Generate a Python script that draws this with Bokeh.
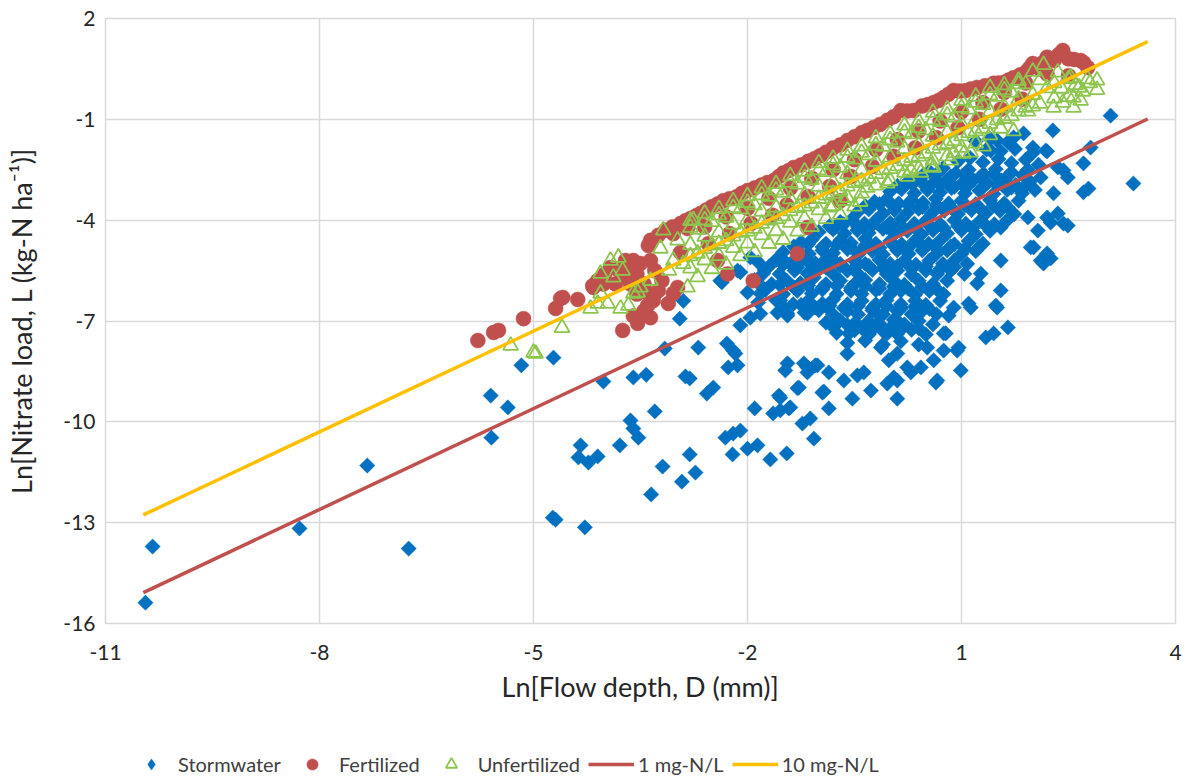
import math
from bokeh.plotting import figure
from bokeh.layouts import column
from bokeh.models import Range1d, FixedTicker, Legend, LegendItem
from bokeh.embed import file_html
from bokeh.resources import INLINE

# ---------------- data ----------------
x_ticks = [-11, -8, -5, -2, 1, 4]
y_ticks = [-16, -13, -10, -7, -4, -1, 2]
series_names = ["Stormwater", "Fertilized", "Unfertilized", "1 mg-N/L", "10 mg-N/L"]

# (Ln D, Ln L) pairs
stormwater = [
    (-10.44, -15.38), (-10.34, -13.71), (-8.28, -13.17), (-7.33, -11.30), (-6.75, -13.77),
    (-5.60, -9.22), (-5.36, -9.57), (-5.59, -10.47), (-5.17, -8.32), (-4.72, -8.09),
    (-4.73, -12.85), (-4.69, -12.91), (-4.28, -13.14), (-4.02, -8.80), (-3.60, -8.68),
    (-3.42, -8.60), (-3.16, -7.82), (-2.95, -6.93), (-2.69, -7.79), (-2.87, -8.65),
    (-2.81, -8.71), (-2.57, -9.16), (-2.48, -8.98), (-3.30, -9.69), (-3.64, -9.96),
    (-3.60, -10.20), (-3.53, -10.47), (-3.79, -10.70), (-4.34, -10.70), (-4.37, -11.06),
    (-4.23, -11.21), (-4.10, -11.03), (-3.19, -11.33), (-2.92, -11.78), (-2.73, -11.51),
    (-2.81, -10.97), (-3.35, -12.16), (-2.31, -10.47), (-2.20, -10.35), (-2.10, -10.26),
    (-2.21, -10.97), (-2.00, -10.80), (-1.86, -10.70), (-1.68, -11.12), (-1.45, -10.94),
    (-1.90, -9.60), (-2.27, -8.38), (-2.14, -8.32), (-2.20, -7.88), (-2.29, -7.67),
    (-2.17, -7.97), (-2.10, -7.13), (-1.96, -6.90), (-1.82, -6.78), (-1.58, -6.75),
    (-1.44, -6.84), (-1.64, -9.75), (-1.54, -9.66), (-1.42, -9.60), (-1.54, -9.28),
    (-1.30, -9.00), (-1.44, -8.26), (-1.47, -8.47), (-1.21, -8.26), (-1.16, -8.53),
    (-1.02, -8.32), (-0.86, -8.53), (-1.28, -8.98), (-1.56, -9.22), (-1.40, -9.57),
    (-1.23, -10.05), (-1.12, -9.90), (-1.07, -10.50), (-0.93, -9.10), (-0.86, -9.60),
    (-2.90, -6.40), (-0.95, -9.13), (-1.16, -8.38), (-1.05, -8.32), (-0.65, -8.77),
    (-0.53, -9.31), (-0.46, -8.62), (-0.37, -8.53), (-0.27, -9.07), (-0.60, -7.97),
    (-0.58, -7.37), (-0.49, -7.05), (-0.30, -7.37), (-0.13, -7.79), (-0.04, -7.37),
    (-0.02, -8.17), (0.10, -7.97), (-0.04, -8.86), (0.10, -8.77), (0.10, -9.31),
    (0.29, -8.53), (0.43, -8.38), (0.52, -7.79), (0.61, -8.17), (0.64, -8.83),
    (0.75, -7.88), (0.94, -7.88), (0.99, -8.47), (0.78, -7.37), (0.82, -6.84),
    (0.89, -6.60), (1.13, -6.60), (1.50, -6.60), (1.34, -7.49), (1.45, -7.37),
    (1.65, -7.19), (-0.18, -6.78), (0.10, -6.99), (0.15, -6.60), (0.66, -8.77),
    (0.24, -8.38), (0.05, -8.68),
    (3.09, -0.89), (3.41, -2.91), (2.81, -1.84), (2.71, -2.31), (2.43, -2.52),
    (2.29, -3.20), (2.71, -3.17), (2.78, -3.06), (2.35, -3.80), (2.43, -4.10),
    (2.20, -3.92), (2.49, -4.16), (2.25, -4.07), (2.11, -5.20), (2.20, -4.99),
    (2.01, -4.81), (2.07, -4.31), (1.93, -3.92), (2.25, -5.14), (2.15, -5.29),
    (1.97, -4.81), (1.55, -5.20), (1.27, -5.59), (1.22, -5.88), (1.55, -6.09),
    (1.48, -6.54), (1.10, -6.48), (0.96, -7.79), (0.75, -7.37),
    (2.00, -1.84), (2.18, -1.93), (1.50, -1.63), (1.73, -1.54), (1.41, -1.93),
    (2.11, -2.73), (2.35, -2.43), (2.49, -2.73), (2.28, -1.33), (1.87, -1.42),
    (1.20, -1.65), (1.40, -1.58), (1.65, -1.68), (1.35, -1.90), (1.55, -1.95),
    (1.75, -1.88), (2.00, -2.00), (2.20, -1.95),
    (0.95, -2.25), (1.12, -2.15), (1.30, -2.28), (1.52, -2.18), (1.70, -2.30), (1.90, -2.20), (2.08, -2.35),
    (0.55, -2.55), (0.74, -2.45), (0.92, -2.60), (1.10, -2.50), (1.31, -2.62), (1.48, -2.48), (1.70, -2.58), (1.93, -2.50),
    (0.25, -2.85), (0.42, -2.78), (0.60, -2.90), (0.80, -2.80), (1.00, -2.92), (1.17, -2.80), (1.36, -2.90),
    (1.56, -2.82), (1.76, -2.95), (1.96, -2.85),
    (0.00, -3.15), (0.16, -3.08), (0.34, -3.20), (0.52, -3.10), (0.70, -3.18), (0.86, -3.05), (1.05, -3.20),
    (1.25, -3.12), (1.45, -3.22), (1.64, -3.10), (1.85, -3.20), (2.03, -3.10),
    (-0.22, -3.45), (-0.05, -3.38), (0.12, -3.50), (0.30, -3.40), (0.46, -3.48), (0.64, -3.36), (0.82, -3.50),
    (1.00, -3.42), (1.20, -3.52), (1.40, -3.40), (1.60, -3.50), (1.80, -3.42),
    (-0.45, -3.75), (-0.30, -3.68), (-0.10, -3.80), (0.06, -3.70), (0.24, -3.78), (0.40, -3.66), (0.58, -3.80),
    (0.76, -3.72), (0.95, -3.82), (1.14, -3.70), (1.34, -3.80), (1.54, -3.72), (1.74, -3.82),
    (-0.70, -4.05), (-0.54, -3.98), (-0.36, -4.10), (-0.20, -4.00), (0.00, -4.08), (0.16, -3.96), (0.34, -4.10),
    (0.50, -4.02), (0.70, -4.12), (0.90, -4.00), (1.06, -4.10), (1.26, -4.02), (1.46, -4.12), (1.64, -4.00),
    (-1.00, -4.35), (-0.80, -4.28), (-0.64, -4.40), (-0.46, -4.30), (-0.30, -4.38), (-0.10, -4.26), (0.06, -4.40),
    (0.24, -4.32), (0.44, -4.42), (0.60, -4.30), (0.80, -4.40), (1.00, -4.30), (1.20, -4.42), (1.40, -4.32),
    (-1.25, -4.65), (-1.10, -4.58), (-0.90, -4.70), (-0.70, -4.60), (-0.55, -4.68), (-0.35, -4.56), (-0.20, -4.70),
    (0.00, -4.62), (0.16, -4.72), (0.35, -4.60), (0.54, -4.70), (0.70, -4.60), (0.90, -4.72), (1.10, -4.62), (1.30, -4.70),
    (-1.50, -4.95), (-1.30, -4.88), (-1.14, -5.00), (-0.95, -4.90), (-0.80, -4.98), (-0.60, -4.86), (-0.44, -5.00),
    (-0.25, -4.92), (-0.10, -5.02), (0.10, -4.90), (0.26, -5.00), (0.45, -4.90), (0.64, -5.02), (0.80, -4.90),
    (1.00, -5.00), (1.20, -4.92),
    (-1.85, -5.25), (-1.60, -5.18), (-1.40, -5.30), (-1.24, -5.20), (-1.05, -5.28), (-0.90, -5.16), (-0.70, -5.30),
    (-0.50, -5.20), (-0.35, -5.30), (-0.15, -5.18), (0.00, -5.30), (0.20, -5.20), (0.36, -5.32), (0.55, -5.20),
    (0.74, -5.30), (0.90, -5.20), (1.08, -5.30),
    (-2.10, -5.55), (-1.76, -5.48), (-1.55, -5.60), (-1.34, -5.50), (-1.16, -5.58), (-1.00, -5.46), (-0.80, -5.60),
    (-0.60, -5.50), (-0.45, -5.60), (-0.25, -5.48), (-0.05, -5.60), (0.10, -5.50), (0.30, -5.62), (0.50, -5.50),
    (0.66, -5.60), (0.85, -5.50), (1.04, -5.60),
    (-2.36, -5.85), (-1.90, -5.78), (-1.66, -5.90), (-1.45, -5.80), (-1.26, -5.88), (-1.10, -5.76), (-0.90, -5.90),
    (-0.70, -5.80), (-0.50, -5.90), (-0.35, -5.78), (-0.15, -5.90), (0.05, -5.80), (0.20, -5.92), (0.40, -5.80),
    (0.60, -5.90), (0.80, -5.80),
    (-2.00, -6.15), (-1.75, -6.08), (-1.50, -6.20), (-1.30, -6.10), (-1.10, -6.18), (-0.95, -6.06), (-0.75, -6.20),
    (-0.55, -6.10), (-0.40, -6.20), (-0.20, -6.08), (0.00, -6.20), (0.15, -6.10), (0.35, -6.22), (0.55, -6.10), (0.75, -6.20),
    (-1.85, -6.45), (-1.60, -6.38), (-1.36, -6.50), (-1.15, -6.40), (-0.95, -6.48), (-0.80, -6.36), (-0.60, -6.50),
    (-0.40, -6.40), (-0.20, -6.50), (-0.05, -6.38), (0.15, -6.50), (0.35, -6.40), (0.50, -6.52), (0.70, -6.40),
    (-1.20, -6.75), (-1.00, -6.68), (-0.80, -6.80), (-0.60, -6.70), (-0.45, -6.80), (-0.25, -6.68), (-0.10, -6.80),
    (0.10, -6.70), (0.30, -6.80), (0.45, -6.70), (0.65, -6.80),
    (-0.90, -7.05), (-0.70, -6.98), (-0.50, -7.10), (-0.30, -7.00), (-0.15, -7.08), (0.05, -6.96), (0.20, -7.10),
    (0.40, -7.00), (0.60, -7.10),
    (-0.75, -7.35), (-0.50, -7.28), (-0.30, -7.40), (-0.10, -7.30), (0.10, -7.38), (0.30, -7.26), (0.50, -7.40),
    (-0.60, -7.65), (-0.35, -7.58), (-0.10, -7.70), (0.15, -7.60), (0.40, -7.70),
    (-2.38, -5.80), (-1.96, -5.11), (-2.14, -5.50), (-1.78, -5.59), (-1.49, -5.20), (-1.82, -6.18),
    (-1.54, -6.39), (-1.30, -6.00), (-1.07, -5.70), (-0.79, -5.20), (-0.88, -6.60), (-1.16, -6.78),
    (-1.44, -6.78), (-1.26, -5.88),
    (0.45, -2.68), (0.66, -2.62), (0.85, -2.70), (1.04, -2.64), (1.26, -2.72), (1.45, -2.63), (1.64, -2.71), (1.86, -2.66),
    (0.10, -2.98), (0.31, -2.93), (0.50, -3.00), (0.70, -2.94), (0.90, -3.01), (1.10, -2.95), (1.30, -3.02),
    (1.50, -2.96), (1.70, -3.03), (1.90, -2.97),
    (-0.35, -3.58), (-0.15, -3.52), (0.05, -3.60), (0.25, -3.54), (0.45, -3.61), (0.65, -3.55), (0.85, -3.62),
    (1.05, -3.56), (1.25, -3.63), (1.45, -3.57), (1.65, -3.62),
    (-0.85, -4.18), (-0.65, -4.12), (-0.45, -4.20), (-0.25, -4.14), (-0.05, -4.21), (0.15, -4.15), (0.35, -4.22),
    (0.55, -4.16), (0.75, -4.23), (0.95, -4.17), (1.15, -4.24), (1.35, -4.18), (1.55, -4.22),
    (-1.35, -4.78), (-1.15, -4.72), (-0.95, -4.80), (-0.75, -4.74), (-0.55, -4.81), (-0.35, -4.75), (-0.15, -4.82),
    (0.05, -4.76), (0.25, -4.83), (0.45, -4.77), (0.65, -4.84), (0.85, -4.78), (1.05, -4.85), (1.25, -4.79),
    (-1.70, -5.38), (-1.50, -5.32), (-1.30, -5.40), (-1.10, -5.34), (-0.90, -5.41), (-0.70, -5.35), (-0.50, -5.42),
    (-0.30, -5.36), (-0.10, -5.43), (0.10, -5.37), (0.30, -5.44), (0.50, -5.38), (0.70, -5.45), (0.90, -5.39),
    (-1.80, -5.98), (-1.55, -5.92), (-1.35, -6.00), (-1.15, -5.94), (-0.95, -6.01), (-0.75, -5.95), (-0.55, -6.02),
    (-0.35, -5.96), (-0.15, -6.03), (0.05, -5.97), (0.25, -6.04), (0.45, -5.98), (0.65, -6.05),
    (-1.50, -6.58), (-1.25, -6.52), (-1.05, -6.60), (-0.85, -6.54), (-0.65, -6.61), (-0.45, -6.55), (-0.25, -6.62),
    (-0.05, -6.56), (0.15, -6.63), (0.35, -6.57), (0.55, -6.64),
    (-0.80, -7.18), (-0.60, -7.12), (-0.40, -7.20), (-0.20, -7.14), (0.00, -7.21), (0.20, -7.15), (0.40, -7.22),
]

fertilized = [
    (-5.78, -7.58), (-5.56, -7.34), (-5.49, -7.28), (-5.14, -6.93), (-4.69, -6.63),
    (-4.62, -6.33), (-4.38, -6.36), (-4.16, -6.00), (-4.10, -5.80), (-3.75, -7.28),
    (-3.54, -7.07), (-3.36, -6.90), (-3.40, -6.54), (-3.32, -6.39), (-3.39, -6.18),
    (-3.11, -6.48), (-3.60, -5.20), (-3.68, -5.41), (-3.50, -5.29), (-3.39, -4.75),
    (-3.04, -4.40), (-2.84, -4.25), (-2.94, -4.96), (-3.92, -5.41), (-4.17, -5.95),
    (-3.80, -5.50), (-3.70, -5.70), (-3.55, -5.60), (-3.45, -5.90), (-3.55, -6.20),
    (-3.25, -6.10), (-3.45, -6.70), (-3.60, -6.85), (-3.30, -5.50), (-3.20, -5.80),
    (-3.71, -5.20), (-4.00, -5.60), (-3.85, -5.90), (-4.59, -6.30), (-3.64, -5.90),
    (-4.02, -5.90), (-2.90, -4.10), (-3.36, -5.20),
    (-1.30, -5.00), (-1.92, -5.80), (-2.28, -5.60), (-2.42, -5.20), (-2.98, -6.00),
    (-3.04, -6.18), (-1.16, -4.22), (-0.70, -3.42),
    (-3.36, -4.60), (-3.15, -4.30), (-2.94, -4.10), (-2.80, -3.95), (-2.66, -3.80),
    (-2.50, -3.60), (-2.34, -3.42), (-2.15, -3.30), (-2.00, -3.12), (-1.80, -2.95),
    (-1.63, -2.82), (-1.50, -2.60), (-1.35, -2.43), (-1.15, -2.25), (-0.98, -2.08),
    (-0.80, -1.85), (-0.60, -1.63), (-0.40, -1.40), (-0.23, -1.24), (-0.04, -1.03),
    (0.15, -0.74), (0.33, -0.74), (0.45, -0.60), (0.61, -0.50), (0.75, -0.35),
    (0.89, -0.14), (1.05, -0.15), (1.22, -0.05), (1.45, 0.07), (1.60, 0.10),
    (1.73, 0.24), (1.90, 0.40), (2.00, 0.66), (2.30, 0.75), (2.42, 1.05),
    (2.50, 0.80), (2.71, 0.69), (2.67, 0.75), (2.77, 0.54), (2.20, 0.85), (2.10, 0.50),
    (-3.25, -4.45), (-3.05, -4.20), (-2.87, -4.02), (-2.72, -3.87), (-2.58, -3.70),
    (-2.42, -3.52), (-2.25, -3.36), (-2.08, -3.20), (-1.90, -3.04), (-1.72, -2.88),
    (-1.56, -2.70), (-1.42, -2.52), (-1.25, -2.36), (-1.06, -2.17), (-0.90, -1.98),
    (-0.70, -1.76), (-0.50, -1.52), (-0.32, -1.33), (-0.14, -1.15), (0.05, -0.92),
    (0.24, -0.75), (0.53, -0.56), (0.68, -0.44), (0.82, -0.25), (0.97, -0.16),
    (1.13, -0.10), (1.33, 0.00), (1.52, 0.08), (1.66, 0.17), (1.82, 0.32),
    (1.95, 0.52), (2.15, 0.70), (2.36, 0.92), (2.58, 0.78),
    (-2.60, -4.20), (-2.55, -4.70), (-2.30, -3.90), (-2.25, -4.40), (-2.00, -3.65),
    (-1.95, -4.10), (-1.70, -3.35), (-1.65, -3.85), (-1.40, -3.05), (-1.45, -3.55),
    (-1.10, -2.75), (-1.15, -3.30), (-0.80, -2.50), (-0.85, -3.00), (-0.50, -2.20),
    (-0.55, -2.70), (-0.20, -1.90), (-0.25, -2.40), (0.10, -1.60), (0.05, -2.10),
    (0.40, -1.35), (0.35, -1.85), (0.70, -1.05), (0.65, -1.55), (1.00, -0.78),
    (0.95, -1.25), (1.30, -0.50), (1.25, -1.00), (1.60, -0.20), (1.55, -0.70),
    (1.90, 0.08), (1.85, -0.40), (2.20, 0.35), (2.50, 0.30),
]

unfertilized = [
    (-5.32, -7.73), (-5.00, -7.94), (-4.97, -7.97), (-4.60, -7.20), (-4.20, -6.63),
    (-4.10, -6.48), (-3.96, -6.48), (-4.06, -5.59), (-3.92, -5.20), (-3.81, -5.11),
    (-3.78, -6.63), (-3.67, -6.54), (-3.54, -6.15), (-3.75, -5.50), (-3.36, -5.80),
    (-3.22, -4.84), (-3.18, -4.30), (-3.04, -5.20), (-2.84, -6.00), (-2.76, -4.00),
    (-3.50, -6.00), (-3.60, -6.18), (-4.06, -6.18), (-3.88, -5.70), (-2.98, -4.60),
    (-3.10, -5.50), (-2.90, -5.30),
    (-2.80, -4.02), (-2.60, -3.80), (-2.40, -3.66), (-2.20, -3.43), (-2.00, -3.28),
    (-1.80, -3.05), (-1.60, -2.92), (-1.40, -2.68), (-1.20, -2.55), (-1.00, -2.30),
    (-0.80, -2.17), (-0.60, -1.93), (-0.40, -1.80), (-0.20, -1.56), (0.00, -1.43),
    (0.20, -1.18), (0.40, -1.06), (0.60, -0.80), (0.80, -0.70), (1.00, -0.44),
    (1.20, -0.32), (1.40, -0.06), (1.60, 0.02), (1.80, 0.15), (2.00, 0.42), (2.15, 0.62),
    (-2.70, -4.28), (-2.50, -4.05), (-2.30, -3.92), (-2.10, -3.67), (-1.90, -3.55),
    (-1.70, -3.30), (-1.50, -3.18), (-1.30, -2.93), (-1.10, -2.80), (-0.90, -2.56),
    (-0.70, -2.43), (-0.50, -2.19), (-0.30, -2.06), (-0.10, -1.81), (0.10, -1.69),
    (0.30, -1.44), (0.50, -1.32), (0.70, -1.07), (0.90, -0.94), (1.10, -0.70),
    (1.30, -0.57), (1.50, -0.32), (1.70, -0.20), (1.90, 0.05), (2.10, 0.17),
    (2.30, 0.08), (2.50, 0.20),
    (-2.80, -4.73), (-2.60, -4.49), (-2.40, -4.36), (-2.20, -4.12), (-2.00, -3.99),
    (-1.80, -3.74), (-1.60, -3.62), (-1.40, -3.37), (-1.20, -3.25), (-1.00, -3.00),
    (-0.80, -2.87), (-0.60, -2.63), (-0.40, -2.50), (-0.20, -2.26), (0.00, -2.13),
    (0.20, -1.88), (0.40, -1.76), (0.60, -1.51), (0.80, -1.39), (1.00, -1.14),
    (1.20, -1.01), (1.40, -0.77), (1.60, -0.64), (1.80, -0.40), (2.00, -0.27),
    (2.20, -0.07), (2.40, -0.08), (2.60, 0.03), (2.80, 0.08),
    (-2.70, -4.99), (-2.50, -4.75), (-2.30, -4.62), (-2.10, -4.37), (-1.90, -4.25),
    (-1.70, -4.00), (-1.50, -3.88), (-1.30, -3.63), (-1.10, -3.50), (-0.90, -3.26),
    (-0.70, -3.13), (-0.50, -2.89), (-0.30, -2.76), (-0.10, -2.51), (0.10, -2.39),
    (0.30, -2.14), (0.50, -2.02), (0.70, -1.77), (0.90, -1.64), (1.10, -1.40),
    (1.30, -1.27), (1.50, -1.02), (1.70, -0.90), (1.90, -0.65), (2.10, -0.53),
    (2.30, -0.37), (2.50, -0.33), (2.70, -0.17), (2.90, -0.12),
    (-2.80, -5.43), (-2.60, -5.19), (-2.40, -5.06), (-2.20, -4.82), (-2.00, -4.69),
    (-1.80, -4.44), (-1.60, -4.32), (-1.40, -4.07), (-1.20, -3.95), (-1.00, -3.70),
    (-0.80, -3.57), (-0.60, -3.33), (-0.40, -3.20), (-0.20, -2.96), (0.00, -2.83),
    (0.20, -2.58), (0.40, -2.46), (0.60, -2.21), (0.80, -2.09), (1.00, -1.84),
    (1.20, -1.71), (1.40, -1.47),
    (-2.70, -5.69), (-2.50, -5.45), (-2.30, -5.32), (-2.10, -5.07), (-1.90, -4.95),
    (-1.70, -4.70), (-1.50, -4.58), (-1.30, -4.33), (-1.10, -4.20), (-0.90, -3.96),
    (-0.70, -3.83), (-0.50, -3.59),
    (-0.42, -3.45), (0.24, -2.70), (0.43, -2.58), (0.57, -2.40), (0.89, -2.00),
    (1.13, -1.98), (1.31, -1.80), (1.73, -1.35), (1.93, -0.76), (2.42, -0.50),
    (2.57, -0.35), (2.67, -0.44), (2.53, 0.24), (2.77, 0.20), (2.90, 0.16),
    (2.57, -0.65), (2.29, -0.65), (1.55, -1.27), (1.03, -2.02), (0.85, -2.22),
    (0.61, -2.43), (0.29, -2.52), (-0.04, -2.90), (-0.32, -3.03), (-0.65, -3.42),
    (-0.84, -3.62), (2.35, 0.40), (2.65, -0.05),
    (-2.80, -4.22), (-2.60, -4.00), (-2.40, -3.85), (-2.20, -3.63), (-2.00, -3.48),
    (-1.80, -3.25), (-1.60, -3.11), (-1.40, -2.88), (-1.20, -2.74), (-1.00, -2.51),
    (-0.80, -2.36), (-0.60, -2.14), (-0.40, -1.99), (-0.20, -1.77), (0.00, -1.62),
    (0.20, -1.39), (0.40, -1.25), (0.60, -1.02), (0.80, -0.88), (1.00, -0.65),
    (1.20, -0.50), (1.40, -0.28), (1.60, -0.13), (1.80, 0.05),
    (-2.80, -5.07), (-2.60, -4.85), (-2.40, -4.70), (-2.20, -4.48), (-2.00, -4.33),
    (-1.80, -4.10), (-1.60, -3.96), (-1.40, -3.73), (-1.20, -3.59), (-1.00, -3.36),
    (-0.80, -3.21), (-0.60, -2.99), (-0.40, -2.84), (-0.20, -2.62), (0.00, -2.47),
    (0.20, -2.24), (0.40, -2.10), (0.60, -1.87), (0.80, -1.73), (1.00, -1.50),
    (1.20, -1.35), (1.40, -1.13), (1.60, -0.98), (1.80, -0.76), (2.00, -0.61),
]

# reference concentration lines: end points (Ln D, Ln L)
line_x = [-10.47, 3.61]
one_mg_y = [-15.08, -0.99]
ten_mg_y = [-12.77, 1.31]

# ---------------- styling ----------------
BLUE = "#0070C0"
RED = "#C0504D"
GREEN = "#8DC64E"
GOLD = "#FFC000"
GRID = "#D9D9D9"
TXT = "#262626"
FONT = "Lato"

W = 1185
p = figure(width=W, height=710,
           x_range=Range1d(-11, 4), y_range=Range1d(-16, 2),
           output_backend="svg", toolbar_location=None,
           min_border_left=105, min_border_right=10,
           min_border_top=18, min_border_bottom=87)

p.outline_line_color = GRID
p.outline_line_width = 1.5
p.background_fill_color = "white"
p.border_fill_color = "white"

p.xaxis.ticker = FixedTicker(ticks=x_ticks)
p.yaxis.ticker = FixedTicker(ticks=y_ticks)
p.xaxis.major_label_overrides = {t: str(t) for t in x_ticks}
p.yaxis.major_label_overrides = {t: str(t) for t in y_ticks}
for ax in (p.xaxis, p.yaxis):
    ax.axis_line_color = None
    ax.major_tick_line_color = None
    ax.minor_tick_line_color = None
    ax.major_tick_out = 0
    ax.major_tick_in = 0
    ax.major_label_text_font = FONT
    ax.major_label_text_font_size = "21px"
    ax.major_label_text_color = TXT
    ax.axis_label_text_font = FONT
    ax.axis_label_text_font_size = "27px"
    ax.axis_label_text_font_style = "normal"
    ax.axis_label_text_color = TXT

p.xaxis.axis_label = "Ln[Flow depth, D (mm)]"
p.yaxis.axis_label = "Ln[Nitrate load, L (kg-N ha\u207b\u00b9)]"
p.xaxis.major_label_standoff = 21
p.xaxis.axis_label_standoff = 7
p.yaxis.major_label_standoff = 10
p.yaxis.axis_label_standoff = 22

p.xgrid.grid_line_color = GRID
p.ygrid.grid_line_color = GRID
p.xgrid.grid_line_width = 1.5
p.ygrid.grid_line_width = 1.5

sw_x = [d[0] for d in stormwater]
sw_y = [d[1] for d in stormwater]
fe_x = [d[0] for d in fertilized]
fe_y = [d[1] for d in fertilized]
un_x = [d[0] for d in unfertilized]
un_y = [d[1] for d in unfertilized]

sw_style = dict(marker="square", angle=math.pi / 4, fill_color=BLUE, line_color=BLUE, line_width=0.5)
fe_style = dict(marker="circle", fill_color=RED, line_color=RED, line_width=0.5)
un_style = dict(marker="triangle", fill_color=None, line_color=GREEN, line_width=1.8)

p.scatter(sw_x, sw_y, size=10.8, **sw_style)
p.scatter(fe_x, fe_y, size=15, **fe_style)
p.scatter(un_x, un_y, size=15, **un_style)
p.line(line_x, one_mg_y, line_color=RED, line_width=3.5)
p.line(line_x, ten_mg_y, line_color=GOLD, line_width=3.5)

# ---- legend strip below the chart (its stand-in glyphs sit outside the strip's range) ----
lg = figure(width=W, height=68, x_range=Range1d(0, 1), y_range=Range1d(0, 1),
            x_axis_type=None, y_axis_type=None, output_backend="svg",
            toolbar_location=None, min_border=0)
lg.outline_line_color = None
lg.grid.visible = False
lg.background_fill_color = "white"
lg.border_fill_color = "white"
off = [5.0, 6.0]
l_sw = lg.scatter(off, off, marker="diamond", fill_color=BLUE, line_color=BLUE, line_width=0.5)
l_fe = lg.scatter(off, off, **fe_style)
l_un = lg.scatter(off, off, **un_style)
l_1 = lg.line(off, off, line_color=RED, line_width=3.5)
l_10 = lg.line(off, off, line_color=GOLD, line_width=3.5)

legend = Legend(items=[
    LegendItem(label=series_names[0], renderers=[l_sw]),
    LegendItem(label=series_names[1], renderers=[l_fe]),
    LegendItem(label=series_names[2], renderers=[l_un]),
    LegendItem(label=series_names[3], renderers=[l_1]),
    LegendItem(label=series_names[4], renderers=[l_10]),
], orientation="horizontal", location=(23, 0))
legend.glyph_width = 46
legend.glyph_height = 28
legend.label_standoff = 4
legend.spacing = 8
legend.padding = 0
legend.margin = 0
legend.border_line_color = None
legend.background_fill_alpha = 0
legend.label_text_font = FONT
legend.label_text_font_size = "20px"
legend.label_text_color = "#404040"
legend.label_text_baseline = "middle"
lg.add_layout(legend)

open("out.html", "w").write(file_html(column(p, lg, spacing=0), INLINE))
